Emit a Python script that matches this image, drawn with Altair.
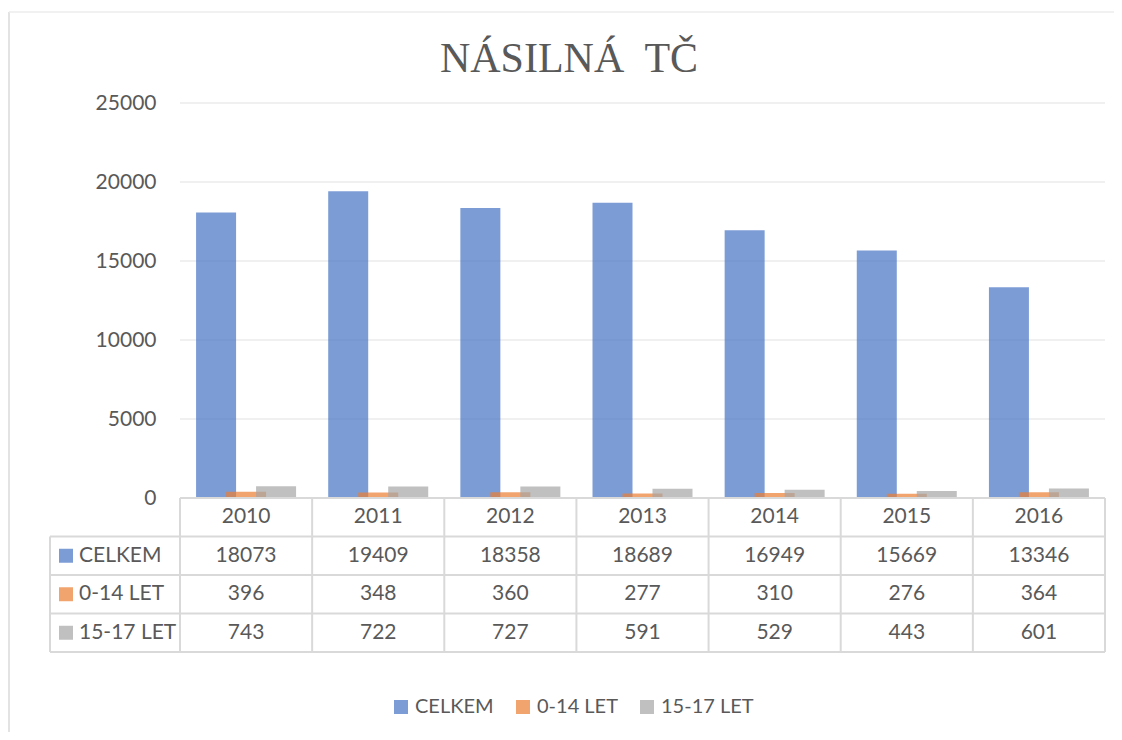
import altair as alt
import pandas as pd

# ---- data ----
years = ["2010", "2011", "2012", "2013", "2014", "2015", "2016"]
series = ["CELKEM", "0-14 LET", "15-17 LET"]
celkem = [18073, 19409, 18358, 18689, 16949, 15669, 13346]
deti = [396, 348, 360, 277, 310, 276, 364]
mladistvi = [743, 722, 727, 591, 529, 443, 601]
y_ticks = [0, 5000, 10000, 15000, 20000, 25000]
colors = ["#4472C4", "#ED7D31", "#A5A5A5"]
title_text = "NÁSILNÁ\u00a0 TČ"

# ---- layout constants ----
FONT = "Lato"
FS = 21
TXT = "#595959"
LINE = "#D9D9D9"
PLOT_W = 925          # bar plot width
LABEL_W = 130         # width of table label column
W = PLOT_W + LABEL_W
H_PLOT = 395
H_TAB = 154
H = H_PLOT + H_TAB
n = len(years)
unit = PLOT_W / n
L = LABEL_W / unit
BAR_PX = 40
OFF = 30 / unit
YMAX = y_ticks[-1]
n_rows = len(series) + 1
row_v = (H_TAB / n_rows) * YMAX / H_PLOT   # one table row in value units
YMIN = -row_v * n_rows

values = [celkem, deti, mladistvi]

bars_rows = []
for si, s in enumerate(series):
    for i, y in enumerate(years):
        bars_rows.append({"series": s, "pos": i + 0.5 + (si - 1) * OFF,
                          "value": values[si][i], "order": si})
bars_df = pd.DataFrame(bars_rows)

xscale = alt.Scale(domain=[-L, n], nice=False, zero=False, padding=0)
yscale = alt.Scale(domain=[YMIN, YMAX], nice=False, zero=False)
cscale = alt.Scale(domain=series, range=colors)

yaxis = alt.Axis(orient="left", offset=-LABEL_W, domain=False, ticks=False, tickSize=0,
                 labelPadding=24, grid=False, title=None, values=y_ticks, format="d",
                 labelFont=FONT, labelFontSize=FS, labelColor=TXT)

legend = alt.Legend(orient="none", legendX=341, legendY=594, direction="horizontal",
                    title=None, symbolType="square", symbolSize=196, symbolOpacity=0.7,
                    symbolStrokeWidth=0, labelFont=FONT, labelFontSize=20,
                    labelColor=TXT, columnPadding=19, labelOffset=4)

grid_df = pd.DataFrame({"value": y_ticks, "x1": [0] * len(y_ticks), "x2": [n] * len(y_ticks)})
grid = alt.Chart(grid_df).mark_rule(color="#EBEBEB", strokeWidth=1.5).encode(
    x=alt.X("x1:Q", scale=xscale, axis=None),
    x2="x2:Q",
    y=alt.Y("value:Q", scale=yscale, axis=yaxis),
)

bars_df["zero"] = 0
bars = alt.Chart(bars_df).mark_bar(opacity=0.7, size=BAR_PX, orient="vertical").encode(
    x=alt.X("pos:Q", scale=xscale, axis=None),
    y=alt.Y("value:Q", scale=yscale, axis=yaxis),
    y2="zero:Q",
    color=alt.Color("series:N", scale=cscale, legend=legend),
    order=alt.Order("order:Q"),
)

def ry(r):
    return -r * row_v

# ---- table ----
lines = []
lines.append({"x1": 0, "x2": n, "y1": ry(0), "y2": ry(0)})
for r in range(1, n_rows + 1):
    lines.append({"x1": -L, "x2": n, "y1": ry(r), "y2": ry(r)})
lines.append({"x1": -L, "x2": -L, "y1": ry(1), "y2": ry(n_rows)})
for c in range(n + 1):
    lines.append({"x1": c, "x2": c, "y1": ry(0), "y2": ry(n_rows)})
lines_df = pd.DataFrame(lines)

table_lines = alt.Chart(lines_df).mark_rule(color=LINE, strokeWidth=2).encode(
    x=alt.X("x1:Q", scale=xscale, axis=None),
    x2="x2:Q",
    y=alt.Y("y1:Q", scale=yscale, axis=yaxis),
    y2="y2:Q",
)

header_df = pd.DataFrame({"year": years, "xc": [i + 0.5 for i in range(n)],
                          "yc": [ry(0.5)] * n})
header = alt.Chart(header_df).mark_text(
    font=FONT, fontSize=FS, color=TXT, baseline="middle", align="center"
).encode(
    x=alt.X("xc:Q", scale=xscale, axis=None),
    y=alt.Y("yc:Q", scale=yscale, axis=yaxis),
    text="year:N",
)

cell_rows = []
for si, s in enumerate(series):
    for i in range(n):
        cell_rows.append({"xc": i + 0.5, "yc": ry(si + 1.5), "txt": str(values[si][i])})
cells = alt.Chart(pd.DataFrame(cell_rows)).mark_text(
    font=FONT, fontSize=FS, color=TXT, baseline="middle", align="center"
).encode(
    x=alt.X("xc:Q", scale=xscale, axis=None),
    y=alt.Y("yc:Q", scale=yscale, axis=yaxis),
    text="txt:N",
)

lab_df = pd.DataFrame({"series": series, "xl": [-L] * len(series),
                       "yc": [ry(si + 1.5) for si in range(len(series))]})
lab_sq = alt.Chart(lab_df).mark_square(size=196, opacity=0.7, xOffset=16).encode(
    x=alt.X("xl:Q", scale=xscale, axis=None),
    y=alt.Y("yc:Q", scale=yscale, axis=yaxis),
    color=alt.Color("series:N", scale=cscale, legend=legend),
)
lab_txt = alt.Chart(lab_df).mark_text(
    font=FONT, fontSize=FS, color=TXT, baseline="middle", align="left", dx=29
).encode(
    x=alt.X("xl:Q", scale=xscale, axis=None),
    y=alt.Y("yc:Q", scale=yscale, axis=yaxis),
    text="series:N",
)

# ---- frame and title ----
one = pd.DataFrame({"a": [0]})
border_left = alt.Chart(one).mark_rule(color="#E3E3E3", strokeWidth=2).encode(
    x=alt.value(-41), y=alt.value(-91), y2=alt.value(H + 80)
)
border_top = alt.Chart(one).mark_rule(color="#EDEDED", strokeWidth=1.5).encode(
    x=alt.value(-41), x2=alt.value(W + 9), y=alt.value(-91)
)
title = alt.Chart(one).mark_text(
    text=title_text, font="Liberation Serif", fontSize=42, color=TXT,
    align="center", baseline="alphabetic"
).encode(x=alt.value(519), y=alt.value(-31))

chart = alt.layer(
    border_left, border_top, title, grid, bars,
    table_lines, header, cells, lab_sq, lab_txt
).properties(
    width=W, height=H,
    autosize="none",
    padding={"left": 42, "top": 95, "right": 9, "bottom": 80},
).configure_view(stroke=None)

chart.save("out.html", embed_options={"renderer": "svg", "actions": False})
